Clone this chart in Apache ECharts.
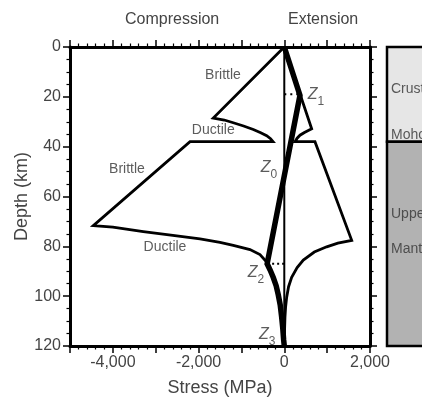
<!DOCTYPE html>
<html>
<head>
<meta charset="utf-8">
<script src="https://cdn.jsdelivr.net/npm/echarts@6/dist/echarts.min.js"></script>
<style>
  html, body { margin: 0; padding: 0; background: #fff; }
  #main { width: 422px; height: 397px; }
</style>
</head>
<body>
<div id="main"></div>
<script>
// stress (MPa) vs depth (km)
const compressionEnvelope = [
  [0, 0], [-1657, 28.5], [-1400, 29.3], [-1190, 30.4], [-950, 31.7], [-723, 33.1],
  [-550, 34.4], [-411, 35.6], [-320, 36.8], [-263, 38], [-2200, 38], [-4456, 71.7],
  [-4000, 72.3], [-3290, 74.1], [-2600, 75.6], [-1967, 77.0], [-1500, 78.4],
  [-1190, 79.6], [-800, 81.3], [-567, 83.3], [-400, 86.5], [-330, 89.5], [-257, 92.5],
  [-190, 95.8], [-140, 99.5], [-95, 103.5], [-61, 108.4], [-35, 113], [-15, 117.5], [0, 120]
];
const extensionEnvelope = [
  [0, 0], [639, 32.8], [560, 33.5], [470, 34.3], [366, 35.4], [300, 36.6], [250, 38],
  [716, 38], [1573, 77.6], [1250, 78.7], [989, 80.2], [700, 82.3], [444, 85.5],
  [300, 88.5], [172, 92.4], [100, 96.2], [56, 100.4], [30, 104.5], [16, 108.4], [6, 114], [0, 120]
];
const stressProfile = [
  [0, 0], [366, 19.4], [-400, 87], [-330, 89.5], [-257, 92.5], [-190, 95.8], [-140, 99.5],
  [-95, 103.5], [-61, 108.4], [-35, 113], [-15, 117.5], [0, 120]
];
const zeroLine = [[0, 0], [0, 120]];
const z1Dots = [[0, 19], [366, 19]];
const z2Dots = [[-400, 87], [0, 87]];

const regimeLabels = [
  ['Brittle', -1430, 11.4], ['Ductile', -1657, 33.4],
  ['Brittle', -3670, 49], ['Ductile', -2783, 80.4]
];
const zLabels = [
  ['1', 740, 20], ['0', -360, 49.5], ['2', -660, 91.5], ['3', -400, 116.5]
];

const layerTop = [0, 38];
const layerBottom = [38, 120];
const panelLabels = [['Crust', 17], ['Moho', 35.3], ['Upper', 67], ['Mantle', 81]];

const FONT = '"Liberation Sans", Arial, sans-serif';
const TXT = '#444';

const chart = echarts.init(document.getElementById('main'));

const axisCommon = {
  axisLine: { onZero: false, lineStyle: { color: '#000', width: 3 } },
  axisTick: { length: 7, lineStyle: { color: '#000', width: 1.5 } },
  splitLine: { show: false },
  minorSplitLine: { show: false }
};
const minor = n => ({ show: true, splitNumber: n, length: 3.5, lineStyle: { color: '#000', width: 1.2 } });

function thin(data, width, extra) {
  return Object.assign({
    type: 'line', data: data, symbol: 'none', silent: true,
    xAxisIndex: 0, yAxisIndex: 0,
    lineStyle: { color: '#000', width: width, join: 'miter' }
  }, extra || {});
}

chart.setOption({
  animation: false,
  backgroundColor: '#fff',
  textStyle: { fontFamily: FONT },
  graphic: [
    { type: 'text', left: 125, top: 12, style: { text: 'Compression', fontSize: 16, fontFamily: FONT, fill: TXT } },
    { type: 'text', left: 288, top: 12, style: { text: 'Extension', fontSize: 16, fontFamily: FONT, fill: TXT } }
  ],
  grid: [
    { left: 70, top: 47, width: 300, height: 299, outerBoundsMode: 'none', containLabel: false },
    { left: 387, top: 47, width: 80, height: 299, outerBoundsMode: 'none', containLabel: false }
  ],
  xAxis: [
    Object.assign({
      type: 'value', gridIndex: 0, position: 'bottom', min: -5000, max: 2000, interval: 1000,
      axisLabel: {
        margin: 9, fontSize: 16, color: TXT, fontFamily: FONT,
        formatter: v => (v % 2000 === 0 ? v.toLocaleString('en-US') : '')
      },
      name: 'Stress (MPa)', nameLocation: 'middle', nameGap: 33.5, nameMoveOverlap: false,
      nameTextStyle: { fontSize: 18, color: TXT, fontFamily: FONT }
    }, axisCommon, { minorTick: minor(5) }),
    Object.assign({
      type: 'value', gridIndex: 0, position: 'top', min: -5000, max: 2000, interval: 1000,
      axisLabel: { show: false }
    }, axisCommon, { minorTick: minor(5) }),
    { type: 'value', gridIndex: 1, min: 0, max: 1, show: false }
  ],
  yAxis: [
    Object.assign({
      type: 'value', gridIndex: 0, position: 'left', inverse: true, min: 0, max: 120, interval: 20,
      axisLabel: { margin: 9, fontSize: 16, color: TXT, fontFamily: FONT },
      name: 'Depth (km)', nameLocation: 'middle', nameGap: 39, nameMoveOverlap: false,
      nameTextStyle: { fontSize: 18, color: TXT, fontFamily: FONT }
    }, axisCommon, { minorTick: minor(4) }),
    Object.assign({
      type: 'value', gridIndex: 0, position: 'right', inverse: true, min: 0, max: 120, interval: 20,
      axisLabel: { show: false }
    }, axisCommon, { minorTick: minor(4) }),
    { type: 'value', gridIndex: 1, inverse: true, min: 0, max: 120, show: false }
  ],
  series: [
    {
      type: 'custom', xAxisIndex: 2, yAxisIndex: 2, silent: true, clip: false,
      data: layerTop.map((t, i) => [t, layerBottom[i]]),
      renderItem: function (params, api) {
        const p0 = api.coord([0, api.value(0)]);
        const p1 = api.coord([1, api.value(1)]);
        return {
          type: 'rect',
          shape: { x: p0[0], y: p0[1], width: p1[0] - p0[0], height: p1[1] - p0[1] },
          style: { fill: params.dataIndex === 0 ? '#e6e6e6' : '#b2b2b2', stroke: '#000', lineWidth: 2.5 }
        };
      }
    },
    {
      type: 'scatter', xAxisIndex: 2, yAxisIndex: 2, symbolSize: 0, silent: true,
      data: panelLabels.map(d => ({ value: [0.05, d[1]], name: d[0] })),
      label: { show: true, position: 'inside', align: 'left', formatter: '{b}', fontSize: 14, color: '#333', fontFamily: FONT }
    },
    thin(zeroLine, 2),
    thin(compressionEnvelope, 2.8),
    thin(extensionEnvelope, 2.8),
    thin(stressProfile, 5.5),
    thin(z1Dots, 2, { lineStyle: { color: '#000', width: 2, type: [2, 4] } }),
    thin(z2Dots, 2, { lineStyle: { color: '#000', width: 2, type: [2, 3] } }),
    {
      type: 'scatter', xAxisIndex: 0, yAxisIndex: 0, symbolSize: 0, silent: true,
      data: regimeLabels.map(d => ({ value: [d[1], d[2]], name: d[0] })),
      label: { show: true, position: 'inside', formatter: '{b}', fontSize: 14, color: '#333', fontFamily: FONT }
    },
    {
      type: 'scatter', xAxisIndex: 0, yAxisIndex: 0, symbolSize: 0, silent: true,
      data: zLabels.map(d => ({ value: [d[1], d[2]], name: d[0] })),
      label: {
        show: true, position: 'inside', formatter: '{z|Z}{s|{b}}',
        rich: {
          z: { fontSize: 16, fontStyle: 'italic', color: '#333', fontFamily: FONT, lineHeight: 16, verticalAlign: 'top' },
          s: { fontSize: 12, color: '#333', fontFamily: FONT, lineHeight: 21, verticalAlign: 'bottom' }
        }
      }
    }
  ]
});
</script>
</body>
</html>
